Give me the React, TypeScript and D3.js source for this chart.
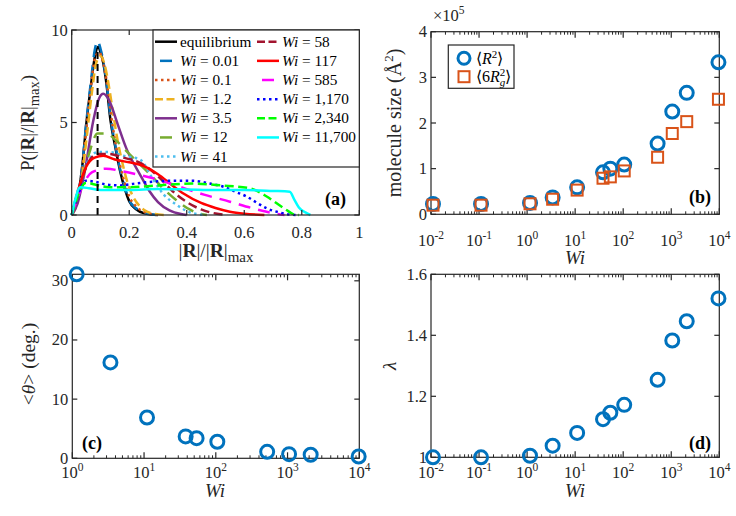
import React from 'react';
import * as d3 from 'd3';

// ---------- Data ----------
// Panel (a): distributions P(|R|/|R|max), pairs [x, P]
const distEq: [number, number][] = [[0,0],[0.01,0.3],[0.02,0.9],[0.035,2.4],[0.052,5.1],[0.066,6.9],[0.08,8.5],[0.092,9.1],[0.1,8.8],[0.11,8.2],[0.12,7.2],[0.135,5.1],[0.15,3.8],[0.168,2.4],[0.185,1.4],[0.2,0.75],[0.225,0.3],[0.25,0.1],[0.28,0.02],[0.3,0]];
const dist001: [number, number][] = [[0,0],[0.01,0.3],[0.02,0.9],[0.035,2.4],[0.052,5.2],[0.066,7.1],[0.08,8.9],[0.09,9.4],[0.1,9.0],[0.11,8.3],[0.12,7.3],[0.135,5.3],[0.15,3.9],[0.168,2.5],[0.185,1.5],[0.2,0.8],[0.225,0.35],[0.25,0.12],[0.28,0.03],[0.3,0]];
const dist01: [number, number][] = [[0,0],[0.02,0.8],[0.035,2.2],[0.052,4.8],[0.066,6.8],[0.08,8.4],[0.095,8.8],[0.11,8.2],[0.12,7.4],[0.135,5.6],[0.15,4.1],[0.168,2.7],[0.185,1.7],[0.2,1.0],[0.225,0.45],[0.25,0.18],[0.28,0.05],[0.31,0]];
const dist1p2: [number, number][] = [[0,0],[0.02,0.7],[0.035,2.0],[0.055,4.6],[0.07,6.6],[0.085,8.2],[0.1,8.6],[0.115,8.1],[0.13,6.9],[0.145,5.4],[0.16,4.0],[0.178,2.7],[0.195,1.7],[0.21,1.1],[0.235,0.5],[0.26,0.2],[0.29,0.06],[0.32,0]];
const dist3p5: [number, number][] = [[0,0],[0.02,0.6],[0.046,2.4],[0.075,5.1],[0.095,6.3],[0.11,6.55],[0.13,6.2],[0.16,4.9],[0.19,3.6],[0.237,2.2],[0.27,1.3],[0.3,0.7],[0.34,0.25],[0.38,0.05],[0.4,0]];
const dist12: [number, number][] = [[0,0],[0.03,1.5],[0.06,3.3],[0.09,4.4],[0.12,4.4],[0.156,4.0],[0.2,3.3],[0.24,2.7],[0.272,2.2],[0.32,1.4],[0.364,0.8],[0.41,0.3],[0.45,0.05],[0.47,0]];
const dist41: [number, number][] = [[0,0],[0.03,1.8],[0.06,3.0],[0.09,3.4],[0.13,3.4],[0.18,3.2],[0.237,3.0],[0.28,2.0],[0.32,1.1],[0.36,0.6],[0.41,0.15],[0.46,0]];
const dist58: [number, number][] = [[0,0],[0.03,1.7],[0.06,2.9],[0.09,3.3],[0.13,3.3],[0.18,3.1],[0.24,2.8],[0.3,2.1],[0.35,1.3],[0.4,0.7],[0.45,0.3],[0.5,0.08],[0.54,0]];
const dist117: [number, number][] = [[0,0],[0.02,1.2],[0.05,2.6],[0.08,3.1],[0.11,3.2],[0.15,3.0],[0.2,2.85],[0.25,2.65],[0.3,2.2],[0.35,1.6],[0.39,1.15],[0.45,0.65],[0.5,0.38],[0.55,0.18],[0.6,0.07],[0.67,0]];
const dist585: [number, number][] = [[0,0],[0.03,1.3],[0.07,2.3],[0.12,2.5],[0.18,2.35],[0.226,2.2],[0.28,2.0],[0.342,1.7],[0.4,1.4],[0.46,1.1],[0.55,0.72],[0.63,0.36],[0.7,0.1],[0.74,0]];
const dist1170: [number, number][] = [[0,0],[0.02,1.0],[0.05,1.85],[0.08,1.8],[0.12,1.65],[0.17,1.6],[0.22,1.7],[0.28,1.8],[0.35,1.85],[0.42,1.85],[0.48,1.7],[0.527,1.53],[0.57,1.25],[0.608,1.0],[0.65,0.6],[0.678,0.36],[0.72,0.15],[0.76,0.02],[0.78,0]];
const dist2340: [number, number][] = [[0,0],[0.02,1.0],[0.05,1.75],[0.08,1.65],[0.13,1.5],[0.2,1.5],[0.3,1.6],[0.42,1.7],[0.52,1.6],[0.62,1.44],[0.678,1.0],[0.72,0.55],[0.747,0.27],[0.77,0.05],[0.79,0]];
const dist11700: [number, number][] = [[0,0],[0.01,0.7],[0.03,1.5],[0.06,1.45],[0.1,1.35],[0.2,1.35],[0.3,1.4],[0.4,1.38],[0.5,1.35],[0.6,1.35],[0.7,1.3],[0.758,1.26],[0.775,0.8],[0.79,0.4],[0.817,0.1],[0.83,0]];
const eqPeakX = 0.09;
const eqPeakY = 9.0;

const legendWi = ['', '0.01', '0.1', '1.2', '3.5', '12', '41', '58', '117', '585', '1,170', '2,340', '11,700'];

// Panels (b), (d): Wi values
const wiAll = [0.011, 0.11, 1.15, 3.4, 11, 38, 54, 105, 520, 1050, 2100, 9600];
const r2Vals = [0.226, 0.226, 0.25, 0.37, 0.59, 0.92, 1.0, 1.09, 1.55, 2.25, 2.66, 3.33];
const rg6Vals = [0.2, 0.2, 0.23, 0.33, 0.53, 0.79, 0.82, 0.95, 1.25, 1.77, 2.03, 2.52];
const lambdaVals = [1.0, 1.0, 1.005, 1.038, 1.08, 1.125, 1.146, 1.172, 1.254, 1.383, 1.446, 1.521];
// Panel (c)
const wiC = [1.15, 3.4, 11, 38, 54, 105, 520, 1050, 2100, 9800];
const thetaVals = [31.1, 16.2, 6.9, 3.7, 3.4, 2.8, 1.1, 0.7, 0.6, 0.3];

const ticksA_x = [0, 0.2, 0.4, 0.6, 0.8, 1];
const ticksA_y = [0, 5, 10];
const ticksB_y = [0, 1, 2, 3, 4];
const ticksC_y = [0, 10, 20, 30];
const ticksD_y = [1, 1.2, 1.4, 1.6];

// ---------- Styles ----------
const FONT = 'Liberation Serif, Times New Roman, Times, serif';
const AX = '#262626';
const BLUE = '#0072BD';
const ORANGE = '#D95319';
const SOLID = '';
const DOT = '2.5,3.5';
const DASH = '9,4.5';
const DASHDOT = '12,8';

const distSeries = [
  { d: distEq, color: '#000000', dash: SOLID },
  { d: dist001, color: '#0072BD', dash: DASHDOT },
  { d: dist01, color: '#D95319', dash: DOT },
  { d: dist1p2, color: '#EDB120', dash: DASH },
  { d: dist3p5, color: '#7E2F8E', dash: SOLID },
  { d: dist12, color: '#77AC30', dash: DASHDOT },
  { d: dist41, color: '#4DBEEE', dash: DOT },
  { d: dist58, color: '#A2142F', dash: DASH },
  { d: dist117, color: '#FF0000', dash: SOLID },
  { d: dist585, color: '#FF00FF', dash: DASHDOT },
  { d: dist1170, color: '#0000FF', dash: DOT },
  { d: dist2340, color: '#00FF00', dash: DASH },
  { d: dist11700, color: '#00FFFF', dash: SOLID },
];

const txt = { fontFamily: FONT };

// ---------- Helpers ----------
type Scale = (v: number) => number;

function Frame({ x0, x1, y0, y1 }: { x0: number; x1: number; y0: number; y1: number }) {
  return <rect x={x0} y={y0} width={x1 - x0} height={y1 - y0} fill="none" stroke={AX} strokeWidth={1.2} />;
}

function LinYTicks({ sy, ticks, x0, x1, fmt }: { sy: Scale; ticks: number[]; x0: number; x1: number; fmt?: (v: number) => string }) {
  return (
    <g>
      {ticks.map((t) => (
        <g key={t}>
          <line x1={x0} x2={x0 + 5} y1={sy(t)} y2={sy(t)} stroke={AX} strokeWidth={1.2} />
          <line x1={x1} x2={x1 - 5} y1={sy(t)} y2={sy(t)} stroke={AX} strokeWidth={1.2} />
          <text x={x0 - 4} y={sy(t) + 5.5} textAnchor="end" fontSize={16.5} fill={AX} style={txt}>
            {fmt ? fmt(t) : String(t)}
          </text>
        </g>
      ))}
    </g>
  );
}

function LogXTicks({ sx, lo, hi, y0, y1, labelY }: { sx: Scale; lo: number; hi: number; y0: number; y1: number; labelY: number }) {
  const items: React.ReactNode[] = [];
  for (let e = lo; e <= hi; e++) {
    const v = Math.pow(10, e);
    const x = sx(v);
    items.push(
      <g key={'M' + e}>
        <line x1={x} x2={x} y1={y1} y2={y1 - 6} stroke={AX} strokeWidth={1.2} />
        <line x1={x} x2={x} y1={y0} y2={y0 + 6} stroke={AX} strokeWidth={1.2} />
        <text x={x} y={labelY} textAnchor="middle" fontSize={16.5} fill={AX} style={txt}>
          10<tspan dy={-7} fontSize={11.5}>{e < 0 ? '-' + Math.abs(e) : String(e)}</tspan>
        </text>
      </g>
    );
    if (e < hi) {
      for (let k = 2; k <= 9; k++) {
        const xm = sx(k * v);
        items.push(
          <g key={'m' + e + '_' + k}>
            <line x1={xm} x2={xm} y1={y1} y2={y1 - 3} stroke={AX} strokeWidth={1} />
            <line x1={xm} x2={xm} y1={y0} y2={y0 + 3} stroke={AX} strokeWidth={1} />
          </g>
        );
      }
    }
  }
  return <g>{items}</g>;
}

function Circles({ xs, ys, sx, sy, r = 6.5 }: { xs: number[]; ys: number[]; sx: Scale; sy: Scale; r?: number }) {
  return (
    <g>
      {xs.map((v, i) => (
        <circle key={i} cx={sx(v)} cy={sy(ys[i])} r={r} fill="none" stroke={BLUE} strokeWidth={3} />
      ))}
    </g>
  );
}

// ---------- Panels ----------
function PanelA() {
  const x0 = 71.7, x1 = 359.3, y0 = 30, y1 = 215;
  const sx = d3.scaleLinear().domain([0, 1]).range([x0, x1]);
  const sy = d3.scaleLinear().domain([0, 10]).range([y1, y0]);
  const line = d3.line<[number, number]>().x((p) => sx(p[0])).y((p) => sy(p[1])).curve(d3.curveMonotoneX);

  const lx0 = 153, ly0 = 30, lx1 = x1, ly1 = 167;
  const rowH = 19.15;
  const rows = distSeries.map((s, i) => {
    const col = i < 7 ? 0 : 1;
    const row = i < 7 ? i : i - 7;
    const segX = col === 0 ? 155 : 257;
    const cy = 41.7 + row * rowH;
    const textX = segX + 25;
    let seg: React.ReactNode;
    if (s.dash === DASHDOT) {
      seg = <line x1={segX + 5} x2={segX + 17} y1={cy} y2={cy} stroke={s.color} strokeWidth={2.5} />;
    } else {
      seg = <line x1={segX} x2={segX + 22} y1={cy} y2={cy} stroke={s.color} strokeWidth={2.5} strokeDasharray={s.dash === DASH ? '8,3.5' : s.dash || undefined} />;
    }
    return (
      <g key={i}>
        {seg}
        <text x={textX} y={cy + 5} fontSize={15.3} fill="#000" style={txt}>
          {i === 0 ? 'equilibrium' : (
            <>
              <tspan fontStyle="italic">Wi</tspan>
              <tspan>{' = ' + legendWi[i]}</tspan>
            </>
          )}
        </text>
      </g>
    );
  });

  return (
    <g>
      {distSeries.map((s, i) => (
        <path key={i} d={line(s.d) || ''} fill="none" stroke={s.color} strokeWidth={2.5} strokeDasharray={s.dash || undefined} />
      ))}
      <line x1={sx(eqPeakX)} x2={sx(eqPeakX)} y1={sy(0)} y2={sy(eqPeakY)} stroke="#000" strokeWidth={2} strokeDasharray="7,5" />
      <Frame x0={x0} x1={x1} y0={y0} y1={y1} />
      {ticksA_x.map((t) => (
        <g key={t}>
          <line x1={sx(t)} x2={sx(t)} y1={y1} y2={y1 - 5} stroke={AX} strokeWidth={1.2} />
          <line x1={sx(t)} x2={sx(t)} y1={y0} y2={y0 + 5} stroke={AX} strokeWidth={1.2} />
          <text x={sx(t)} y={238} textAnchor="middle" fontSize={16.5} fill={AX} style={txt}>{String(t)}</text>
        </g>
      ))}
      <LinYTicks sy={sy} ticks={ticksA_y} x0={x0} x1={x1} />
      <rect x={lx0} y={ly0} width={lx1 - lx0} height={ly1 - ly0} fill="#fff" stroke={AX} strokeWidth={1.2} />
      {rows}
      <text x={346} y={205} textAnchor="end" fontSize={18} fontWeight="bold" fill="#000" style={txt}>(a)</text>
      <text x={216} y={257} textAnchor="middle" fontSize={19.5} fill={AX} style={txt}>
        |<tspan fontWeight="bold">R</tspan>|/|<tspan fontWeight="bold">R</tspan>|<tspan dy={5} fontSize={15}>max</tspan>
      </text>
      <text transform="translate(34,123) rotate(-90)" textAnchor="middle" fontSize={19} fill={AX} style={txt}>
        P(|<tspan fontWeight="bold">R</tspan>|/|<tspan fontWeight="bold">R</tspan>|<tspan dy={5} fontSize={14.5}>max</tspan><tspan dy={-5}>)</tspan>
      </text>
    </g>
  );
}

function PanelB() {
  const x0 = 431, x1 = 719.3, y0 = 31.7, y1 = 214.3;
  const sx = d3.scaleLog().domain([0.01, 10000]).range([x0, x1]);
  const sy = d3.scaleLinear().domain([0, 4]).range([y1, y0]);
  return (
    <g>
      <Frame x0={x0} x1={x1} y0={y0} y1={y1} />
      <LogXTicks sx={sx} lo={-2} hi={4} y0={y0} y1={y1} labelY={246} />
      <LinYTicks sy={sy} ticks={ticksB_y} x0={x0} x1={x1} />
      <text x={433} y={21} fontSize={16.5} fill={AX} style={txt}>×10<tspan dy={-7} fontSize={11.5}>5</tspan></text>
      <Circles xs={wiAll} ys={r2Vals} sx={sx} sy={sy} />
      {wiAll.map((v, i) => (
        <rect key={i} x={sx(v) - 5.5} y={sy(rg6Vals[i]) - 5.5} width={11} height={11} fill="none" stroke={ORANGE} strokeWidth={2} />
      ))}
      <rect x={448.3} y={45} width={65.7} height={43.3} fill="#fff" stroke={AX} strokeWidth={1.2} />
      <circle cx={464} cy={58.3} r={6} fill="none" stroke={BLUE} strokeWidth={3} />
      <rect x={464 - 5.5} y={76.7 - 5.5} width={11} height={11} fill="none" stroke={ORANGE} strokeWidth={2} />
      <text x={476} y={63.5} fontSize={16} fill="#000" style={txt}>
        ⟨<tspan fontStyle="italic">R</tspan><tspan dy={-6} fontSize={11}>2</tspan><tspan dy={6}>⟩</tspan>
      </text>
      <text x={476} y={82} fontSize={16} fill="#000" style={txt}>
        ⟨6<tspan fontStyle="italic">R</tspan><tspan dy={-6} fontSize={11}>2</tspan><tspan dx={-5.5} dy={10} fontSize={11} fontStyle="italic">g</tspan><tspan dy={-4}>⟩</tspan>
      </text>
      <text x={711} y={203} textAnchor="end" fontSize={18} fontWeight="bold" fill="#000" style={txt}>(b)</text>
      <text x={575} y={264} textAnchor="middle" fontSize={19} fontStyle="italic" fill={AX} style={txt}>Wi</text>
      <text transform="translate(401,123) rotate(-90)" textAnchor="middle" fontSize={20} fill={AX} style={txt}>
        molecule size (Å<tspan dy={-8} fontSize={13}>2</tspan><tspan dy={8}>)</tspan>
      </text>
    </g>
  );
}

function PanelC() {
  const x0 = 72.3, x1 = 359.3, y0 = 274.3, y1 = 458.3;
  const sx = d3.scaleLog().domain([1, 10000]).range([x0, x1]);
  const sy = d3.scaleLinear().domain([0, 31.1]).range([y1, y0]);
  return (
    <g>
      <Frame x0={x0} x1={x1} y0={y0} y1={y1} />
      <LogXTicks sx={sx} lo={0} hi={4} y0={y0} y1={y1} labelY={478} />
      <LinYTicks sy={sy} ticks={ticksC_y} x0={x0} x1={x1} />
      <Circles xs={wiC} ys={thetaVals} sx={sx} sy={sy} />
      <text x={82} y={449} fontSize={18} fontWeight="bold" fill="#000" style={txt}>(c)</text>
      <text x={215} y={497} textAnchor="middle" fontSize={19} fontStyle="italic" fill={AX} style={txt}>Wi</text>
      <text transform="translate(35,364) rotate(-90)" textAnchor="middle" fontSize={19.5} fill={AX} style={txt}>
        {'<'}<tspan fontStyle="italic">θ</tspan>{'>'} (deg.)
      </text>
    </g>
  );
}

function PanelD() {
  const x0 = 431, x1 = 719.3, y0 = 274.3, y1 = 457.3;
  const sx = d3.scaleLog().domain([0.01, 10000]).range([x0, x1]);
  const sy = d3.scaleLinear().domain([1, 1.6]).range([y1, y0]);
  return (
    <g>
      <Frame x0={x0} x1={x1} y0={y0} y1={y1} />
      <LogXTicks sx={sx} lo={-2} hi={4} y0={y0} y1={y1} labelY={478} />
      <LinYTicks sy={sy} ticks={ticksD_y} x0={x0} x1={x1} fmt={(v) => (v === 1 ? '1' : v.toFixed(1))} />
      <Circles xs={wiAll} ys={lambdaVals} sx={sx} sy={sy} />
      <text x={711} y={449} textAnchor="end" fontSize={18} fontWeight="bold" fill="#000" style={txt}>(d)</text>
      <text x={575} y={497} textAnchor="middle" fontSize={19} fontStyle="italic" fill={AX} style={txt}>Wi</text>
      <text transform="translate(396,366) rotate(-90)" textAnchor="middle" fontSize={19} fontStyle="italic" fill={AX} style={txt}>λ</text>
    </g>
  );
}

export default function App() {
  return (
    <svg width={736} height={516} style={{ position: 'absolute', left: 0, top: 0, background: '#fff', fontFamily: FONT }}>
      <rect width={736} height={516} fill="#fff" />
      <PanelA />
      <PanelB />
      <PanelC />
      <PanelD />
    </svg>
  );
}
